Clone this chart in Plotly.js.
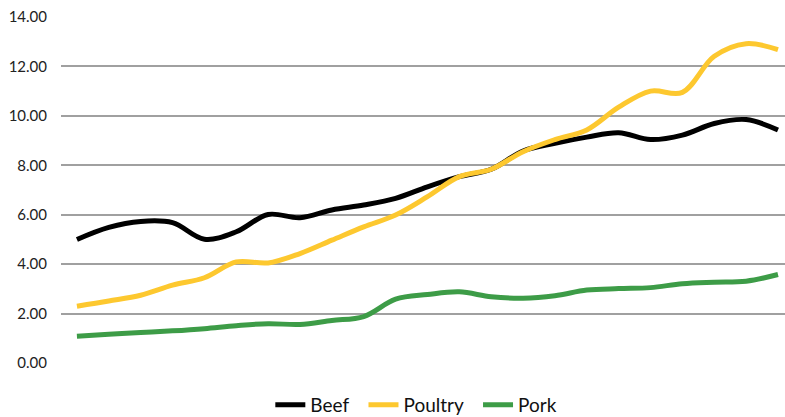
<!DOCTYPE html>
<html>
<head>
<meta charset="utf-8">
<script src="https://cdn.plot.ly/plotly-3.0.1.min.js"></script>
<style>
html,body{margin:0;padding:0;background:#fff;}
#chart{width:785px;height:417px;}
</style>
</head>
<body>
<div id="chart"></div>
<script>
// 23 yearly observations (category index 0..22)
const periods = [0,1,2,3,4,5,6,7,8,9,10,11,12,13,14,15,16,17,18,19,20,21,22];
const beef    = [5.00,5.49,5.73,5.68,5.01,5.31,6.01,5.88,6.19,6.39,6.66,7.13,7.54,7.84,8.58,8.89,9.14,9.32,9.04,9.22,9.69,9.85,9.43];
const poultry = [2.30,2.51,2.74,3.15,3.45,4.09,4.05,4.43,4.97,5.51,5.99,6.73,7.54,7.84,8.55,9.04,9.43,10.35,11.00,10.95,12.41,12.92,12.68];
const pork    = [1.08,1.16,1.23,1.30,1.39,1.51,1.59,1.56,1.72,1.88,2.58,2.77,2.88,2.68,2.62,2.72,2.95,3.01,3.05,3.21,3.27,3.31,3.58];
const seriesNames = ['Beef','Poultry','Pork'];
const seriesColors = ['#000000','#FDC82F','#3D9C47'];
const yTicks = [0,2,4,6,8,10,12,14];
const yTickLabels = ['0.00','2.00','4.00','6.00','8.00','10.00','12.00','14.00'];

const pad = '\u00a0\u00a0';
const data = [beef, poultry, pork].map((vals, k) => ({
  x: periods,
  y: vals,
  name: seriesNames[k] + pad,
  type: 'scatter',
  mode: 'lines',
  line: {color: seriesColors[k], width: 5, shape: 'spline', smoothing: 1}
}));

const layout = {
  width: 785,
  height: 417,
  margin: {l: 61, r: 0, t: 17, b: 54, pad: 0, autoexpand: false},
  paper_bgcolor: '#ffffff',
  plot_bgcolor: '#ffffff',
  font: {family: 'Lato, "DejaVu Sans", sans-serif', color: '#222222', size: 14},
  showlegend: true,
  legend: {
    orientation: 'h',
    x: 0.497, xanchor: 'center',
    y: -0.121, yanchor: 'middle',
    font: {size: 19, color: '#111111'},
    itemwidth: 30,
    traceorder: 'normal'
  },
  xaxis: {
    range: [-0.5, 22.22],
    showgrid: false,
    zeroline: false,
    showline: false,
    showticklabels: false,
    ticks: ''
  },
  yaxis: {
    range: [0, 14],
    tickvals: yTicks,
    ticktext: yTickLabels,
    showgrid: true,
    gridcolor: '#A0A0A0',
    gridwidth: 2,
    zeroline: false,
    showline: false,
    ticks: '',
    ticklabelstandoff: 13,
    tickfont: {size: 15, color: '#222222'}
  }
};

Plotly.newPlot('chart', data, layout, {displayModeBar: false, staticPlot: true});
</script>
</body>
</html>
